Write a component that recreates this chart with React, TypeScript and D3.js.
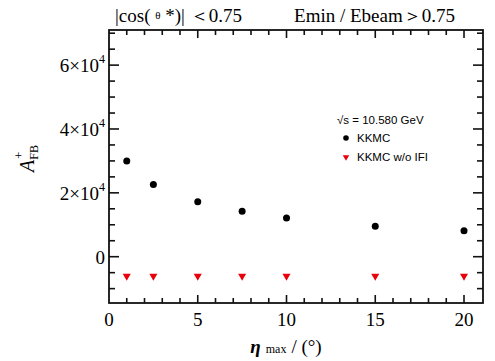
import React, { useEffect, useRef } from "react";
import * as d3 from "d3";

// eta_max values (degrees)
const etaMax = [1, 2.5, 5, 7.5, 10, 15, 20];
// A_FB^+ with KKMC
const kkmc = [30000, 22600, 17200, 14200, 12100, 9500, 8100];
// A_FB^+ with KKMC w/o IFI
const kkmcNoIfi = [-6100, -6100, -6100, -6100, -6100, -6100, -6100];
const xTicks = [0, 5, 10, 15, 20];
const yTicks = [0, 20000, 40000, 60000];
const yLabels = ["0", "2×10", "4×10", "6×10"];

export default function App() {
  const ref = useRef<SVGSVGElement>(null);

  useEffect(() => {
    const width = 495,
      height = 361,
      margin = { top: 30, right: 12, bottom: 58, left: 109 };

    const svg = d3.select(ref.current);
    svg.selectAll("*").remove();

    const x = d3
      .scaleLinear()
      .domain([0, 21.07])
      .range([margin.left, width - margin.right]);
    const y = d3
      .scaleLinear()
      .domain([-14500, 71000])
      .range([height - margin.bottom, margin.top]);

    const serif = "'Liberation Serif', 'Times New Roman', serif";
    const sans = "'Liberation Sans', Arial, sans-serif";

    // frame
    svg
      .append("rect")
      .attr("x", x(x.domain()[0]))
      .attr("y", y(y.domain()[1]))
      .attr("width", x(x.domain()[1]) - x(x.domain()[0]))
      .attr("height", y(y.domain()[0]) - y(y.domain()[1]))
      .attr("fill", "none")
      .attr("stroke", "#111")
      .attr("stroke-width", 1.8);

    // ticks (inward, all four sides)
    const x0 = x.range()[0], x1 = x.range()[1];
    const yb = y.range()[0], yt = y.range()[1];
    const tickG = svg.append("g").attr("stroke", "#111").attr("stroke-width", 1.6);

    d3.range(1, 21).forEach((v) => {
      const len = v % 5 === 0 ? 8 : 5;
      tickG.append("line").attr("x1", x(v)).attr("x2", x(v)).attr("y1", yb).attr("y2", yb - len);
      tickG.append("line").attr("x1", x(v)).attr("x2", x(v)).attr("y1", yt).attr("y2", yt + len);
    });
    d3.range(-10000, 71000, 5000).forEach((v) => {
      const len = v % 20000 === 0 ? 10 : 6;
      tickG.append("line").attr("x1", x0).attr("x2", x0 + len).attr("y1", y(v)).attr("y2", y(v));
      tickG.append("line").attr("x1", x1).attr("x2", x1 - len).attr("y1", y(v)).attr("y2", y(v));
    });

    // x tick labels
    svg
      .append("g")
      .selectAll("text")
      .data(xTicks)
      .join("text")
      .attr("x", (d) => x(d))
      .attr("y", yb + 23)
      .attr("text-anchor", "middle")
      .style("font-family", serif)
      .attr("font-size", 19)
      .text((d) => d);

    // y tick labels
    const yl = svg
      .append("g")
      .selectAll("text")
      .data(yTicks)
      .join("text")
      .attr("x", x0 - 4)
      .attr("y", (d) => y(d) + 7)
      .attr("text-anchor", "end")
      .style("font-family", serif)
      .attr("font-size", 19);
    yl.each(function (d, i) {
      const t = d3.select(this);
      t.append("tspan").text(yLabels[i]);
      if (d !== 0) {
        t.append("tspan").attr("dy", -9).attr("font-size", 12).text("4");
      }
    });

    // y axis title
    const yt0 = svg
      .append("text")
      .attr("transform", `translate(34,172) rotate(-90)`)
      .style("font-family", serif)
      .attr("font-size", 20);
    yt0.append("tspan").attr("font-style", "italic").text("A");
    yt0.append("tspan").attr("dy", 4).attr("font-size", 12).text("FB");
    yt0.append("tspan").attr("dx", -14).attr("dy", -15).attr("font-size", 13).text("+");

    // x axis title
    const xt = svg
      .append("text")
      .attr("x", 286)
      .attr("y", 353)
      .attr("text-anchor", "middle")
      .style("font-family", serif)
      .attr("font-size", 19);
    xt.append("tspan").attr("font-style", "italic").attr("font-weight", "bold").text("η");
    xt.append("tspan").attr("dx", 5).attr("font-size", 12).text("max");
    xt.append("tspan").attr("dx", 5).text("/ (°)");

    // title
    const tt = svg
      .append("text")
      .attr("x", 115)
      .attr("y", 22)
      .style("font-family", serif)
      .attr("font-size", 19)
      .style("white-space", "pre");
    tt.append("tspan").text("|cos( ");
    tt.append("tspan").attr("font-size", 11).attr("dy", -3).text("θ");
    tt.append("tspan").attr("dy", 3).text(" *)| ");
    tt.append("tspan").text("＜0.75");
    svg
      .append("text")
      .attr("x", 455)
      .attr("y", 22)
      .attr("text-anchor", "end")
      .style("font-family", serif)
      .attr("font-size", 19)
      .style("white-space", "pre")
      .text("Emin / Ebeam＞0.75");

    // KKMC points
    svg
      .append("g")
      .selectAll("circle")
      .data(etaMax)
      .join("circle")
      .attr("cx", (d) => x(d))
      .attr("cy", (d, i) => y(kkmc[i]))
      .attr("r", 3.5)
      .attr("fill", "#000");

    // KKMC w/o IFI
    const tri = d3.symbol(d3.symbolTriangle, 28);
    svg
      .append("g")
      .selectAll("path")
      .data(etaMax)
      .join("path")
      .attr("d", tri)
      .attr("transform", (d, i) => `translate(${x(d)},${y(kkmcNoIfi[i])}) rotate(180)`)
      .attr("fill", "#e8000b");

    // legend
    const lg = svg.append("g").style("font-family", sans).attr("font-size", 11.5);
    lg.append("text").attr("x", 337).attr("y", 124).text("√s = 10.580 GeV");
    lg.append("circle").attr("cx", 346).attr("cy", 138).attr("r", 2.8).attr("fill", "#000");
    lg.append("text").attr("x", 357).attr("y", 142).text("KKMC");
    lg.append("path")
      .attr("d", d3.symbol(d3.symbolTriangle, 18))
      .attr("transform", "translate(346,157) rotate(180)")
      .attr("fill", "#e8000b");
    lg.append("text").attr("x", 357).attr("y", 161).text("KKMC w/o IFI");
  }, []);

  return (
    <svg
      ref={ref}
      width={495}
      height={361}
      style={{ position: "absolute", left: 0, top: 0, background: "#fff" }}
    />
  );
}
